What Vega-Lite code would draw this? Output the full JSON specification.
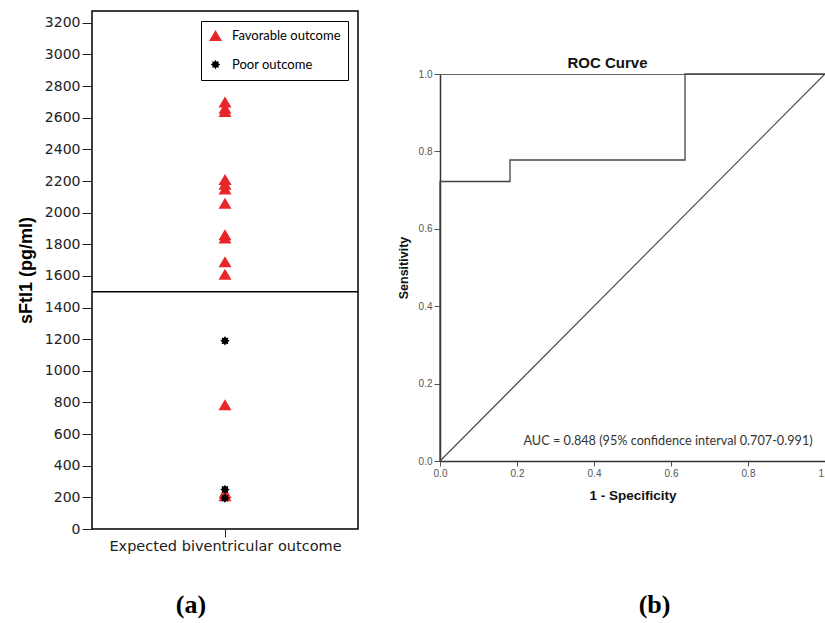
{
  "$schema": "https://vega.github.io/schema/vega-lite/v6.json",
  "background": "white",
  "padding": {"left": 16, "top": 10, "right": 0, "bottom": 0},
  "config": {"axis": {"grid": false}, "view": {"stroke": "black"}},
  "spacing": 36,
  "resolve": {"legend": {"color": "independent", "shape": "independent", "size": "independent"}, "scale": {"color": "independent", "shape": "independent", "size": "independent"}},
  "hconcat": [
    {
      "width": 266,
      "height": 518,
      "title": {"text": "(a)", "orient": "bottom", "anchor": "middle", "font": "Liberation Serif", "fontSize": 26, "fontWeight": "bold", "color": "black", "offset": 39, "dx": -34},
      "view": {"stroke": "black", "strokeWidth": 1.5},
      "layer": [
        {
          "data": {"values": [{}]},
          "mark": {"type": "rule", "color": "black", "strokeWidth": 1.3},
          "encoding": {"y": {"datum": 1500, "type": "quantitative"}}
        },
        {
          "data": {"values": [
            {"group": "Expected biventricular outcome", "outcome": "Favorable outcome", "value": 2700},
            {"group": "Expected biventricular outcome", "outcome": "Favorable outcome", "value": 2660},
            {"group": "Expected biventricular outcome", "outcome": "Favorable outcome", "value": 2640},
            {"group": "Expected biventricular outcome", "outcome": "Favorable outcome", "value": 2210},
            {"group": "Expected biventricular outcome", "outcome": "Favorable outcome", "value": 2180},
            {"group": "Expected biventricular outcome", "outcome": "Favorable outcome", "value": 2150},
            {"group": "Expected biventricular outcome", "outcome": "Favorable outcome", "value": 2060},
            {"group": "Expected biventricular outcome", "outcome": "Favorable outcome", "value": 1860},
            {"group": "Expected biventricular outcome", "outcome": "Favorable outcome", "value": 1840},
            {"group": "Expected biventricular outcome", "outcome": "Favorable outcome", "value": 1690},
            {"group": "Expected biventricular outcome", "outcome": "Favorable outcome", "value": 1610},
            {"group": "Expected biventricular outcome", "outcome": "Favorable outcome", "value": 785},
            {"group": "Expected biventricular outcome", "outcome": "Favorable outcome", "value": 230},
            {"group": "Expected biventricular outcome", "outcome": "Favorable outcome", "value": 210},
            {"group": "Expected biventricular outcome", "outcome": "Poor outcome", "value": 1190},
            {"group": "Expected biventricular outcome", "outcome": "Poor outcome", "value": 250},
            {"group": "Expected biventricular outcome", "outcome": "Poor outcome", "value": 195}
          ]},
          "mark": {"type": "point", "filled": true, "opacity": 1, "strokeWidth": 0},
          "encoding": {
            "x": {
              "field": "group", "type": "nominal", "scale": {"type": "point"},
              "axis": {"title": null, "labelAngle": 0, "labelFont": "DejaVu Sans", "labelFontSize": 14.5, "labelColor": "#222", "labelLimit": 400, "tickColor": "#222", "tickSize": 8, "domain": false, "labelPadding": 2}
            },
            "y": {
              "field": "value", "type": "quantitative",
              "scale": {"domain": [0, 3275], "nice": false},
              "axis": {"title": "sFtl1 (pg/ml)", "titleFont": "Liberation Sans", "titleFontSize": 18, "titleFontWeight": "bold", "titleColor": "black", "titlePadding": 9,
                       "values": [0, 200, 400, 600, 800, 1000, 1200, 1400, 1600, 1800, 2000, 2200, 2400, 2600, 2800, 3000, 3200],
                       "tickCount": 40, "format": "d", "labelOverlap": false,
                       "labelFont": "DejaVu Sans", "labelFontSize": 14, "labelColor": "#222", "tickColor": "#222", "tickSize": 10, "labelPadding": 2, "domain": false}
            },
            "color": {
              "field": "outcome", "type": "nominal",
              "scale": {"domain": ["Favorable outcome", "Poor outcome"], "range": ["#e8262a", "#000000"]},
              "legend": {"title": null, "orient": "top-right", "offset": 10, "padding": 7, "strokeColor": "black", "fillColor": "white", "labelFont": "Lato", "labelFontSize": 13, "labelColor": "black", "rowPadding": 11, "labelOffset": 9, "symbolOpacity": 1}
            },
            "shape": {
              "field": "outcome", "type": "nominal",
              "scale": {"domain": ["Favorable outcome", "Poor outcome"], "range": ["M0,-0.85L1,0.85L-1,0.85Z", "M0,-1L0.249,-0.6L0.707,-0.707L0.6,-0.249L1,0L0.6,0.249L0.707,0.707L0.249,0.6L0,1L-0.249,0.6L-0.707,0.707L-0.6,0.249L-1,0L-0.6,-0.249L-0.707,-0.707L-0.249,-0.6Z"]}
            },
            "size": {
              "field": "outcome", "type": "nominal",
              "scale": {"domain": ["Favorable outcome", "Poor outcome"], "range": [169, 90]}
            }
          }
        }
      ]
    },
    {
      "title": {"text": "(b)", "orient": "bottom", "anchor": "middle", "font": "Liberation Serif", "fontSize": 26, "fontWeight": "bold", "color": "black", "offset": 90, "dx": 40},
      "spacing": 0,
      "vconcat": [
        {
          "width": 385,
          "height": 44,
          "view": {"stroke": null},
          "data": {"values": []},
          "mark": "point"
        },
        {
          "width": 385,
          "height": 387,
          "title": {"text": "ROC Curve", "anchor": "middle", "font": "Liberation Sans", "fontSize": 15, "fontWeight": "bold", "color": "#111", "offset": -2, "dx": -25},
          "view": {"stroke": "#666", "strokeWidth": 1},
          "layer": [
            {
              "data": {"values": [
                {"step": 1, "fpr": 0, "tpr": 0},
                {"step": 2, "fpr": 0, "tpr": 0.7222},
                {"step": 3, "fpr": 0.1818, "tpr": 0.7222},
                {"step": 4, "fpr": 0.1818, "tpr": 0.7778},
                {"step": 5, "fpr": 0.6364, "tpr": 0.7778},
                {"step": 6, "fpr": 0.6364, "tpr": 1},
                {"step": 7, "fpr": 1, "tpr": 1}
              ]},
              "mark": {"type": "line", "color": "#444", "strokeWidth": 1.3},
              "encoding": {
                "x": {"field": "fpr", "type": "quantitative", "scale": {"domain": [0, 1], "nice": false},
                      "axis": {"title": "1 - Specificity", "titleFont": "Liberation Sans", "titleFontSize": 13.5, "titleFontWeight": "bold", "titleColor": "#111", "titlePadding": 10,
                               "values": [0, 0.2, 0.4, 0.6, 0.8, 1], "format": ".1f", "labelFont": "Liberation Sans", "labelFontSize": 10, "labelColor": "#555", "tickColor": "#555", "tickSize": 5, "labelPadding": 2, "domainColor": "#333", "domainWidth": 1.5, "labelFlush": false}},
                "y": {"field": "tpr", "type": "quantitative", "scale": {"domain": [0, 1], "nice": false},
                      "axis": {"title": "Sensitivity", "titleFont": "Liberation Sans", "titleFontSize": 12.5, "titleFontWeight": "bold", "titleColor": "#111", "titlePadding": 8,
                               "values": [0, 0.2, 0.4, 0.6, 0.8, 1], "format": ".1f", "labelFont": "Liberation Sans", "labelFontSize": 10, "labelColor": "#555", "tickColor": "#555", "tickSize": 6, "labelPadding": 2, "domainColor": "#333", "domainWidth": 1.5, "labelFlush": false}},
                "order": {"field": "step", "type": "quantitative"}
              }
            },
            {
              "data": {"values": [{"fpr": 0, "tpr": 0}, {"fpr": 1, "tpr": 1}]},
              "mark": {"type": "line", "color": "#444", "strokeWidth": 1.1},
              "encoding": {
                "x": {"field": "fpr", "type": "quantitative"},
                "y": {"field": "tpr", "type": "quantitative"}
              }
            },
            {
              "data": {"values": [{"label": "AUC = 0.848 (95% confidence interval 0.707-0.991)"}]},
              "mark": {"type": "text", "align": "right", "baseline": "middle", "font": "Lato", "fontSize": 12.7, "color": "#333"},
              "encoding": {
                "x": {"datum": 0.968, "type": "quantitative"},
                "y": {"datum": 0.052, "type": "quantitative"},
                "text": {"field": "label", "type": "nominal"}
              }
            }
          ]
        }
      ]
    }
  ]
}
